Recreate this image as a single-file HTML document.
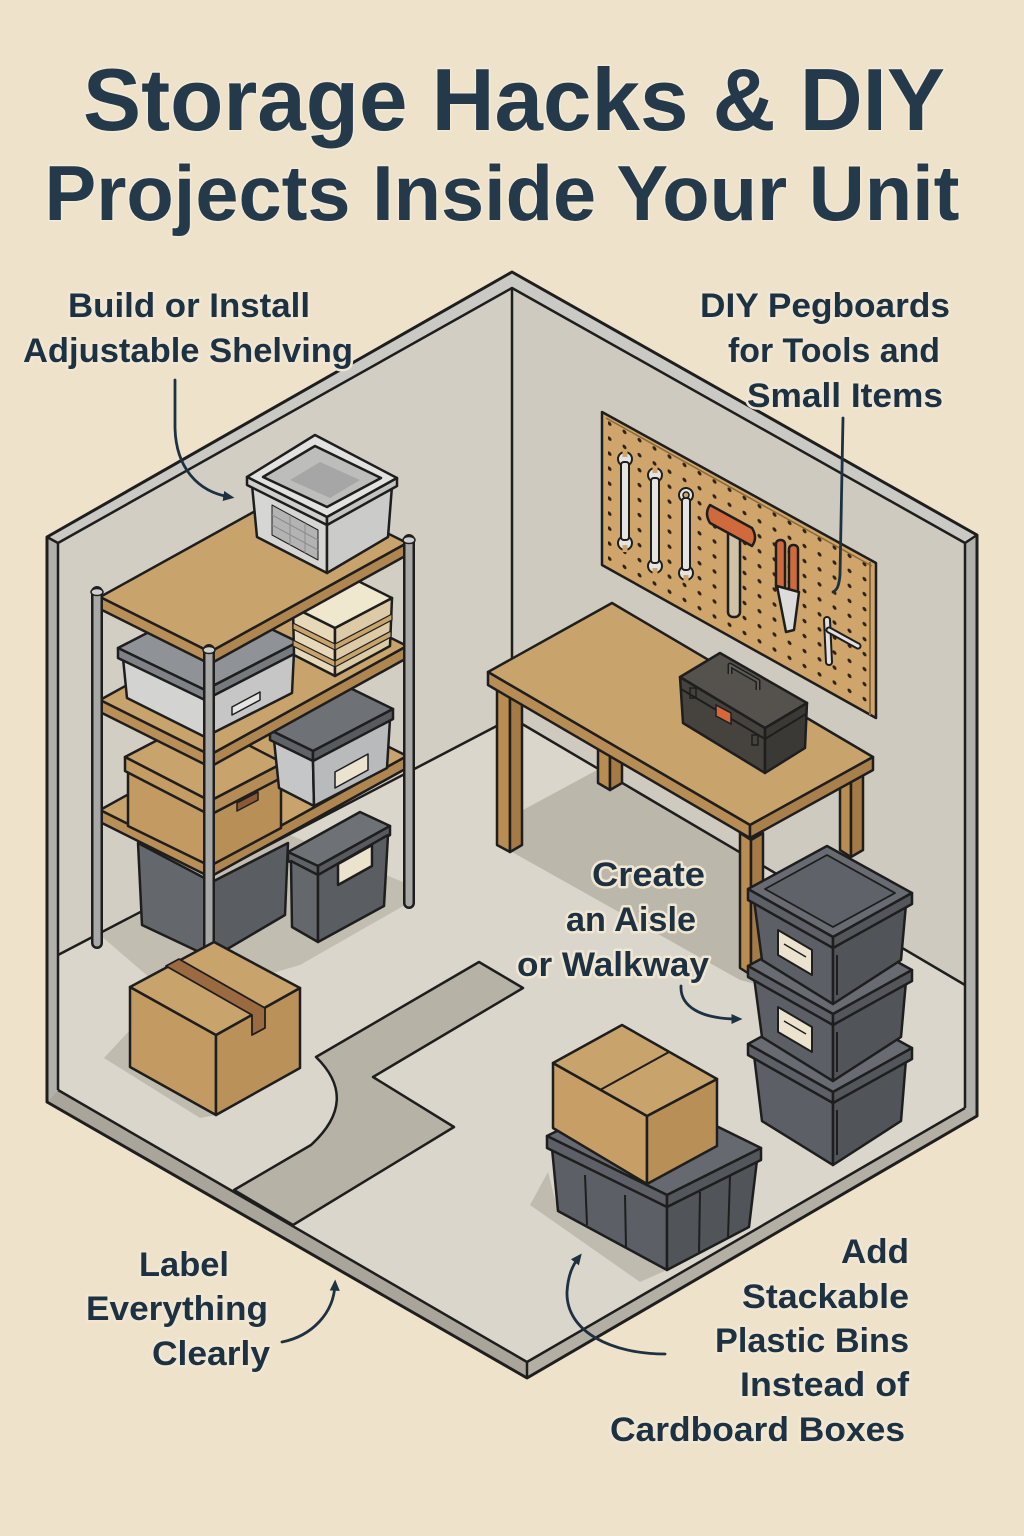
<!DOCTYPE html>
<html><head><meta charset="utf-8">
<style>
html,body{margin:0;padding:0;background:#eee2ca;}
svg{display:block}
text{font-family:"Liberation Sans",Arial,sans-serif;font-weight:bold;}
.t{fill:#243a4b;stroke:#f3e9d6;stroke-width:3px;paint-order:stroke;}
.l{fill:#1c3142;font-size:34px;stroke:#f1e6d2;stroke-width:5px;paint-order:stroke;stroke-linejoin:round}
.o{stroke:#1e1e1e;stroke-width:2.5;stroke-linejoin:round}
.a{fill:none;stroke:#1c3142;stroke-width:2.8;stroke-linecap:round}
</style></head><body>
<svg width="1024" height="1536" viewBox="0 0 1024 1536" xmlns="http://www.w3.org/2000/svg">
<defs>
<marker id="ah" viewBox="0 0 10 10" refX="6" refY="5" markerWidth="4" markerHeight="4" orient="auto" markerUnits="strokeWidth"><path d="M0,0.5 L10,5 L0,9.5 Z" fill="#1c3142"/></marker>
<pattern id="peg" width="15" height="15" patternUnits="userSpaceOnUse" patternTransform="matrix(1,0.551,0,1,602,412)"><circle cx="7.5" cy="7.5" r="2" fill="#2e2318"/></pattern>
</defs>
<rect width="1024" height="1536" fill="#eee2ca"/>

<!-- Room -->
<polygon points="58,543 512,288 512,718 58,955" fill="#d3cec4"/>
<polygon points="512,288 965,543 965,985 512,718" fill="#cfcabf"/>
<polygon points="58,955 512,718 965,985 965,1108 527,1362 58,1090" fill="#dad6cb"/>
<!-- floor shadows -->
<polygon points="523,810 597,770 760,864 760,985 740,980 512,852" fill="#bcb7ab"/>
<polygon points="100,935 290,835 410,885 405,905 300,965 255,978 150,978" fill="#c2bdb1"/>
<polygon points="130,1030 104,1058 200,1118 216,1115 130,1067" fill="#c0bbaf"/>
<polygon points="548,1172 530,1205 640,1282 667,1270 558,1211" fill="#c0bbaf"/>
<!-- aisle -->
<path d="M234,1190 L311,1145 Q360,1100 316,1057 L479,962 L523,988 L373,1077 L454,1127 L293,1225 Z" fill="#b7b2a6" class="o"/>
<polyline points="58,955 512,718 965,985" fill="none" class="o"/>
<line x1="512" y1="288" x2="512" y2="718" class="o"/>
<!-- caps and slabs -->
<polygon points="47,537 512,272 512,288 58,543" fill="#cbc9c4"/>
<polygon points="512,272 977,535 965,543 512,288" fill="#cbc9c4"/>
<polygon points="47,537 58,543 58,1090 47,1102" fill="#b2b0ab"/>
<polygon points="965,543 977,535 977,1116 965,1108" fill="#b2b0ab"/>
<polygon points="47,1102 58,1090 527,1362 527,1378" fill="#a9a59b"/>
<polygon points="527,1362 965,1108 977,1116 527,1378" fill="#b3afa5"/>
<polygon points="47,537 512,272 977,535 977,1116 527,1378 47,1102" fill="none" stroke="#1e1e1e" stroke-width="3" stroke-linejoin="round"/>
<polyline points="58,1090 58,543 512,288 965,543 965,1108" fill="none" class="o"/>
<polyline points="58,1090 527,1362 965,1108" fill="none" class="o"/>
<line x1="527" y1="1362" x2="527" y2="1378" class="o"/>
<line x1="47" y1="537" x2="58" y2="543" class="o"/>
<line x1="977" y1="535" x2="965" y2="543" class="o"/>

<!-- Pegboard -->
<polygon points="602,412 876,563 876,718 602,565" fill="#cfa56b" class="o"/>
<polygon points="608,420 870,565 870,710 608,560" fill="url(#peg)"/>
<polyline points="606,418 872,566" fill="none" stroke="#8a6a3a" stroke-width="1.5"/>
<line x1="870" y1="562" x2="870" y2="715" stroke="#8a6a3a" stroke-width="2"/>
<!-- wrenches -->
<g stroke="#1e1e1e" stroke-width="2" fill="#e4e4e2">
<circle cx="625" cy="459" r="7"/><circle cx="625" cy="543" r="7"/>
<rect x="621" y="462" width="8" height="78" rx="3"/>
<circle cx="655" cy="475" r="7"/><circle cx="655" cy="566" r="7"/>
<rect x="651" y="478" width="8" height="85" rx="3"/>
<circle cx="686" cy="495" r="7"/><circle cx="686" cy="573" r="7"/>
<rect x="682" y="498" width="8" height="72" rx="3"/>
</g>
<g fill="#cfa56b">
<rect x="622.5" y="450" width="5" height="7"/><rect x="622.5" y="545" width="5" height="7"/>
<rect x="652.5" y="466" width="5" height="7"/><rect x="652.5" y="568" width="5" height="7"/>
<rect x="683.5" y="575" width="5" height="7"/>
</g>
<circle cx="686" cy="495" r="3" fill="#cfa56b" stroke="#1e1e1e" stroke-width="1.5"/>
<!-- hammer -->
<rect x="728" y="525" width="12" height="92" rx="5" fill="#cfc2a6" class="o"/>
<path d="M710,505 L752,528 Q758,538 752,546 L710,523 Q704,513 710,505 Z" fill="#d06a3c" class="o"/>
<!-- pliers -->
<rect x="776" y="540" width="9" height="50" rx="4" fill="#d06a3c" class="o"/>
<rect x="789" y="545" width="9" height="50" rx="4" fill="#d06a3c" class="o"/>
<polygon points="777,586 799,592 794,630 786,632" fill="#dcdcda" class="o"/>
<!-- hook tool -->
<line x1="827" y1="620" x2="829" y2="662" stroke="#1e1e1e" stroke-width="8" stroke-linecap="round"/>
<line x1="827" y1="620" x2="829" y2="662" stroke="#e0e0de" stroke-width="4" stroke-linecap="round"/>
<line x1="829" y1="630" x2="858" y2="646" stroke="#1e1e1e" stroke-width="7" stroke-linecap="round"/>
<line x1="829" y1="630" x2="858" y2="646" stroke="#e0e0de" stroke-width="3" stroke-linecap="round"/>

<!-- Workbench legs -->
<g class="o">
<polygon points="598,748 610,755 610,790 598,783" fill="#b98c52"/>
<polygon points="610,755 622,748 622,783 610,790" fill="#a57a45"/>
<polygon points="840,770 851,777 851,857 840,850" fill="#b98c52"/>
<polygon points="851,777 863,770 863,850 851,857" fill="#a57a45"/>
<polygon points="497,683 510,690 510,852 497,845" fill="#b98c52"/>
<polygon points="510,690 522,683 522,845 510,852" fill="#a57a45"/>
<polygon points="740,833 751,840 751,975 740,968" fill="#b98c52"/>
<polygon points="751,840 763,833 763,968 751,975" fill="#a57a45"/>
<!-- table top -->
<polygon points="612,603 873,757 750,825 488,672" fill="#c9a36c"/>
<polygon points="488,672 750,825 750,838 488,685" fill="#b88d55"/>
<polygon points="750,825 873,757 873,770 750,838" fill="#a97f4b"/>
<!-- toolbox -->
<polygon points="680,677 765,728 765,773 683,723" fill="#46433f"/>
<polygon points="765,728 807,703 805,748 765,773" fill="#3b3935"/>
<polygon points="680,677 720,653 807,703 765,728" fill="#55524d"/>
</g>
<polyline points="681,689 765,739 806,714" fill="none" stroke="#1e1e1e" stroke-width="2"/>
<path d="M730,674 l0,-9 l28,16 l0,9" fill="none" stroke="#1e1e1e" stroke-width="5" stroke-linejoin="round"/>
<path d="M730,674 l0,-9 l28,16 l0,9" fill="none" stroke="#5f5b55" stroke-width="2" stroke-linejoin="round"/>
<polygon points="716,705 731,713 731,724 716,716" fill="#d4683a" stroke="#1e1e1e" stroke-width="1.5"/>
<rect x="690" y="688" width="6" height="10" fill="none" stroke="#1e1e1e" stroke-width="1.5"/>
<rect x="752" y="735" width="6" height="10" fill="none" stroke="#1e1e1e" stroke-width="1.5"/>

<!-- Shelf unit -->
<g class="o">
<!-- floor bins -->
<polygon points="138,843 212,882 212,958 142,925" fill="#64686d"/>
<polygon points="212,882 288,843 285,915 212,958" fill="#5a5e63"/>
<polygon points="288,852 360,812 390,826 318,866" fill="#6e7277"/>
<polygon points="288,852 318,866 318,875 288,861" fill="#5f6368"/>
<polygon points="318,866 390,826 390,835 318,875" fill="#575b60"/>
<polygon points="291,861 318,875 318,942 292,927" fill="#64686d"/>
<polygon points="318,875 388,835 384,906 318,942" fill="#5a5e63"/>
<polygon points="338,864 372,845 372,866 338,885" fill="#ece3cf"/>
<!-- shelf 3 -->
<polygon points="100,810 297,701 407,756 210,865" fill="#c9a36c"/>
<polygon points="100,810 210,865 210,877 100,822" fill="#b98f57"/>
<polygon points="210,865 407,756 407,768 210,877" fill="#b08650"/>
<!-- cardboard box w/ lid -->
<polygon points="128,771 210,815 210,866 128,826" fill="#c39a62"/>
<polygon points="210,815 281,777 281,828 210,866" fill="#b98f58"/>
<polygon points="125,757 198,719 283,763 210,801" fill="#c9a36c"/>
<polygon points="125,757 210,801 210,815 125,771" fill="#c49c64"/>
<polygon points="210,801 283,763 283,777 210,815" fill="#b68c56"/>
<polygon points="237,803 258,792 258,800 237,811" fill="#8a5a35" stroke-width="1.5"/>
<!-- gray bin on shelf 3 -->
<polygon points="274,740 313,761 314,806 279,788" fill="#c5c6c7"/>
<polygon points="313,761 390,719 387,768 314,806" fill="#b9babb"/>
<polygon points="270,730 350,688 393,709 313,751" fill="#6e7277"/>
<polygon points="270,730 313,751 313,761 270,740" fill="#5f6368"/>
<polygon points="313,751 393,709 393,719 313,761" fill="#575b60"/>
<polygon points="335,772 368,754 368,770 335,788" fill="#ece3cf" stroke-width="1.5"/>
<!-- shelf 2 -->
<polygon points="100,700 297,591 407,646 210,755" fill="#c9a36c"/>
<polygon points="100,700 210,755 210,767 100,712" fill="#b98f57"/>
<polygon points="210,755 407,646 407,658 210,767" fill="#b08650"/>
<!-- gray box shelf 2 -->
<polygon points="123,658 205,700 205,737 127,698" fill="#d3d3d2"/>
<polygon points="205,700 294,652 292,693 205,737" fill="#c6c6c6"/>
<polygon points="118,648 211,600 298,642 205,690" fill="#8f9398"/>
<polygon points="118,648 205,690 205,700 118,658" fill="#7f8388"/>
<polygon points="205,690 298,642 298,652 205,700" fill="#767a7f"/>
<polygon points="232,707 260,692 260,700 232,715" fill="#e4e4e3" stroke-width="1.5"/>
<!-- cream stack -->
<polygon points="293,607 335,628 335,676 294,655" fill="#e6d8b8"/>
<polygon points="335,628 392,598 390,646 335,676" fill="#dccba6"/>
<polygon points="293,607 350,577 392,598 335,628" fill="#f0e7cf"/>
<polygon points="293,623 335,644 335,650 293,629" fill="#c9a36c" stroke-width="1.2"/>
<polygon points="335,644 392,614 392,620 335,650" fill="#c9a36c" stroke-width="1.2"/>
<polygon points="293,640 335,661 335,667 293,646" fill="#c9a36c" stroke-width="1.2"/>
<polygon points="335,661 391,631 391,637 335,667" fill="#c9a36c" stroke-width="1.2"/>
<!-- top shelf -->
<polygon points="100,597 297,488 407,543 210,652" fill="#c9a36c"/>
<polygon points="100,597 210,652 210,664 100,609" fill="#b98f57"/>
<polygon points="210,652 407,543 407,555 210,664" fill="#b08650"/>
<!-- clear bin -->
<polygon points="252,485 327,525 327,573 257,537" fill="#d6d6d5"/>
<polygon points="327,525 392,486 388,537 327,573" fill="#cbcbca"/>
<polygon points="272,505 318,530 318,560 272,535" fill="#b3b3b3" stroke-width="1"/>
<polygon points="247,477 315,435 397,478 327,517" fill="#e2e2e1"/>
<polygon points="247,477 327,517 327,525 247,485" fill="#cfcfce"/>
<polygon points="327,517 397,478 397,486 327,525" fill="#c4c4c3"/>
<polygon points="263,477 315,446 381,478 327,507" fill="#bdbdbc"/>
</g>
<polygon points="290,480 320,462 360,480 330,498" fill="#9d9d9d" opacity="0.7"/>
<g stroke="#8c8c8c" stroke-width="1">
<line x1="272" y1="515" x2="318" y2="540"/><line x1="272" y1="525" x2="318" y2="550"/>
<line x1="290" y1="515" x2="290" y2="545"/><line x1="305" y1="523" x2="305" y2="553"/>
</g>
<!-- posts -->
<g stroke-linecap="round">
<line x1="409" y1="540" x2="409" y2="903" stroke="#1e1e1e" stroke-width="12"/>
<line x1="409" y1="540" x2="409" y2="903" stroke="#a8a8a6" stroke-width="7"/>
<line x1="97" y1="592" x2="97" y2="943" stroke="#1e1e1e" stroke-width="12"/>
<line x1="97" y1="592" x2="97" y2="943" stroke="#a8a8a6" stroke-width="7"/>
<line x1="209" y1="650" x2="209" y2="1000" stroke="#1e1e1e" stroke-width="12"/>
<line x1="209" y1="650" x2="209" y2="1000" stroke="#a8a8a6" stroke-width="7"/>
</g>
<g fill="#cfcfcd" stroke="#1e1e1e" stroke-width="1.5">
<ellipse cx="409" cy="540" rx="6" ry="3.5"/><ellipse cx="97" cy="592" rx="6" ry="3.5"/><ellipse cx="209" cy="650" rx="6" ry="3.5"/>
</g>

<!-- floor cardboard box -->
<g class="o">
<polygon points="130,987 216,1035 216,1115 130,1067" fill="#c39a62"/>
<polygon points="216,1035 300,988 300,1068 216,1115" fill="#bb915a"/>
<polygon points="130,987 214,942 300,988 216,1035" fill="#c9a36c"/>
<polygon points="166,966 179,959 265,1008 265,1028 252,1035 252,1015" fill="#9b6a40" stroke-width="1.8"/>
</g>

<!-- Stacked bins (bottom to top) -->
<g class="o">
<g transform="translate(0,155)">
<polygon points="754,900 833,948 833,1010 762,966" fill="#5c6066"/>
<polygon points="833,948 906,904 901,966 833,1010" fill="#51555a"/>
<polygon points="748,889 827,846 912,893 833,937" fill="#686c72"/>
<polygon points="748,889 833,937 833,948 748,900" fill="#5d6167"/>
<polygon points="833,937 912,893 912,904 833,948" fill="#53575c"/>
<line x1="837" y1="955" x2="837" y2="1000" stroke-width="2"/>
</g>
<g transform="translate(0,77)">
<polygon points="754,900 833,948 833,1004 762,960" fill="#5c6066"/>
<polygon points="833,948 906,904 901,960 833,1004" fill="#51555a"/>
<polygon points="748,889 827,846 912,893 833,937" fill="#686c72"/>
<polygon points="748,889 833,937 833,948 748,900" fill="#5d6167"/>
<polygon points="833,937 912,893 912,904 833,948" fill="#53575c"/>
<polygon points="778,930 812,950 812,975 778,955" fill="#ece3cf" stroke-width="2"/>
<line x1="784" y1="944" x2="806" y2="957" stroke-width="1.5"/>
<line x1="837" y1="955" x2="837" y2="995" stroke-width="2"/>
</g>
<polygon points="754,900 833,948 833,1004 762,960" fill="#5c6066"/>
<polygon points="833,948 906,904 901,960 833,1004" fill="#51555a"/>
<polygon points="748,889 827,846 912,893 833,937" fill="#686c72"/>
<polygon points="748,889 833,937 833,948 748,900" fill="#5d6167"/>
<polygon points="833,937 912,893 912,904 833,948" fill="#53575c"/>
<polygon points="765,889 827,855 895,893 833,927" fill="#5f6369" stroke-width="1.8"/>
<polygon points="778,930 812,950 812,975 778,955" fill="#ece3cf" stroke-width="2"/>
<line x1="784" y1="944" x2="806" y2="957" stroke-width="1.5"/>
<line x1="837" y1="955" x2="837" y2="995" stroke-width="2"/>
</g>

<!-- Front bin with box -->
<g class="o">
<polygon points="552,1148 667,1207 667,1270 558,1211" fill="#5c6066"/>
<polygon points="667,1207 757,1160 749,1227 667,1270" fill="#51555a"/>
<polygon points="547,1136 641,1089 761,1148 667,1195" fill="#666a70"/>
<polygon points="547,1136 667,1195 667,1207 547,1148" fill="#5d6167"/>
<polygon points="667,1195 761,1148 761,1160 667,1207" fill="#53575c"/>
<line x1="585" y1="1175" x2="587" y2="1225" stroke-width="2"/>
<line x1="625" y1="1195" x2="626" y2="1248" stroke-width="2"/>
<line x1="700" y1="1192" x2="699" y2="1252" stroke-width="2"/>
<line x1="730" y1="1176" x2="728" y2="1237" stroke-width="2"/>
<polygon points="553,1063 647,1116 647,1184 553,1128" fill="#c69e66"/>
<polygon points="647,1116 717,1079 717,1146 647,1184" fill="#b98f58"/>
<polygon points="553,1063 622,1025 717,1079 647,1116" fill="#c9a36c"/>
<line x1="600" y1="1090" x2="669" y2="1052" stroke-width="2"/>
</g>

<!-- Arrows -->
<path class="a" d="M175,380 L175,428 C176,468 198,492 230,497" marker-end="url(#ah)"/>
<path class="a" d="M843,418 L840,575 C839,586 837,590 833,592"/>
<path class="a" d="M681,986 C680,1006 700,1019 738,1019" marker-end="url(#ah)"/>
<path class="a" d="M282,1342 C312,1336 334,1313 335,1284" marker-end="url(#ah)"/>
<path class="a" d="M665,1354 C612,1354 566,1332 567,1292 C568,1276 572,1266 579,1257" marker-end="url(#ah)"/>

<!-- Title -->
<text class="t" x="514" y="130" text-anchor="middle" font-size="88" textLength="862" lengthAdjust="spacingAndGlyphs">Storage Hacks &amp; DIY</text>
<text class="t" x="502" y="220" text-anchor="middle" font-size="78" textLength="915" lengthAdjust="spacingAndGlyphs">Projects Inside Your Unit</text>

<!-- Labels -->
<text class="l" x="68" y="317" textLength="242" lengthAdjust="spacingAndGlyphs">Build or Install</text>
<text class="l" x="23" y="362" textLength="330" lengthAdjust="spacingAndGlyphs">Adjustable Shelving</text>
<text class="l" x="700" y="317" textLength="250" lengthAdjust="spacingAndGlyphs">DIY Pegboards</text>
<text class="l" x="728" y="362" textLength="212" lengthAdjust="spacingAndGlyphs">for Tools and</text>
<text class="l" x="747" y="407" textLength="196" lengthAdjust="spacingAndGlyphs">Small Items</text>
<text class="l" x="592" y="886" textLength="113" lengthAdjust="spacingAndGlyphs">Create</text>
<text class="l" x="566" y="931" textLength="130" lengthAdjust="spacingAndGlyphs">an Aisle</text>
<text class="l" x="517" y="976" textLength="192" lengthAdjust="spacingAndGlyphs">or Walkway</text>
<text class="l" x="139" y="1276" textLength="90" lengthAdjust="spacingAndGlyphs">Label</text>
<text class="l" x="86" y="1320" textLength="182" lengthAdjust="spacingAndGlyphs">Everything</text>
<text class="l" x="152" y="1365" textLength="118" lengthAdjust="spacingAndGlyphs">Clearly</text>
<text class="l" x="841" y="1263" textLength="68" lengthAdjust="spacingAndGlyphs">Add</text>
<text class="l" x="742" y="1308" textLength="167" lengthAdjust="spacingAndGlyphs">Stackable</text>
<text class="l" x="715" y="1352" textLength="194" lengthAdjust="spacingAndGlyphs">Plastic Bins</text>
<text class="l" x="740" y="1396" textLength="169" lengthAdjust="spacingAndGlyphs">Instead of</text>
<text class="l" x="610" y="1441" textLength="295" lengthAdjust="spacingAndGlyphs">Cardboard Boxes</text>
</svg>
</body></html>
